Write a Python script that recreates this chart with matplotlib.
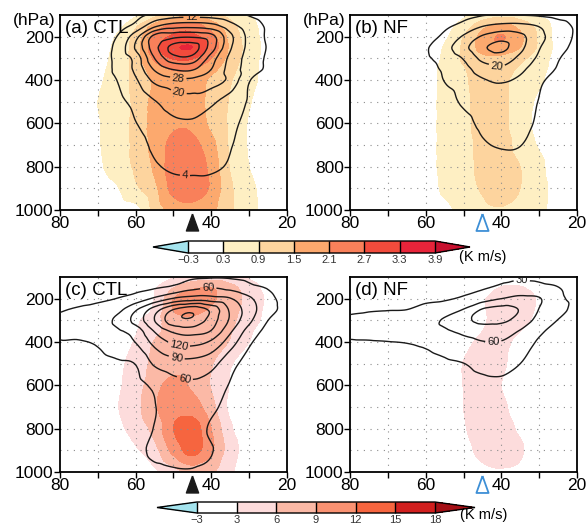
#!/usr/bin/env python3
"""
Pressure-latitude cross sections, CTL vs NF (four panels, two colour bars)
"""

import numpy as np
import matplotlib
matplotlib.use('Agg')
import matplotlib.pyplot as plt
import matplotlib.tri as mtri
from matplotlib.colors import ListedColormap, BoundaryNorm
from matplotlib.cm import ScalarMappable
from matplotlib.transforms import blended_transform_factory

plt.rcParams['font.family'] = ['Liberation Sans', 'DejaVu Sans']

# grid the fields were read on (columns = latitude, rows = pressure)
lats = [80, 75, 70, 65, 60, 55, 50, 45, 40, 35, 30, 25, 20]
levs = [100, 150, 200, 250, 300, 350, 400, 500, 600, 700, 800, 900, 1000]

# (a) CTL shading (K m/s)
shade_a = [
    [0, 0, 0, 0, 0.2, 0.7, 1.2, 1.35, 1.1, 0.7, 0.3, 0.05, 0],
    [0, 0, 0, 0.1, 0.8, 1.7, 2.3, 2.4, 1.8, 1.1, 0.5, 0.1, 0],
    [0, 0, 0, 0.35, 1.1, 2.3, 2.8, 2.85, 2.3, 1.3, 0.6, 0.1, 0],
    [0, 0, 0.05, 0.45, 1.2, 2.5, 3.2, 3.3, 2.5, 1.4, 0.65, 0.15, 0],
    [0, 0, 0.1, 0.5, 1.15, 2.2, 2.75, 2.75, 2.1, 1.3, 0.6, 0.1, 0],
    [0, 0, 0.15, 0.55, 1.1, 1.8, 2.15, 2.1, 1.7, 1.1, 0.55, 0.1, 0],
    [0, 0, 0.2, 0.6, 1.05, 1.6, 1.85, 1.8, 1.4, 0.95, 0.5, 0.1, 0],
    [0, 0, 0.3, 0.7, 1.0, 1.7, 1.9, 1.85, 1.3, 0.85, 0.35, 0, 0],
    [0, 0, 0.25, 0.65, 1.05, 1.75, 2.0, 1.95, 1.35, 0.8, 0.25, 0, 0],
    [0, 0, 0.25, 0.6, 1.05, 1.7, 2.3, 2.3, 1.7, 0.8, 0.25, 0, 0],
    [0, 0, 0.2, 0.6, 1.0, 1.6, 2.45, 2.55, 1.9, 0.85, 0.3, 0, 0],
    [0, 0, 0, 0.25, 0.8, 1.35, 2.3, 2.5, 2.0, 1.0, 0.45, 0.1, 0],
    [0, 0, 0, 0, 0.1, 1.1, 1.7, 1.85, 1.65, 1.0, 0.5, 0.1, 0],
]
# (a) CTL contours
cont_a = [
    [0, 0, 0, 0.5, 2, 6, 8, 8.5, 8, 6, 3.5, 1.5, 0.5],
    [0, 0, 0.5, 2, 6, 18, 24, 25, 23, 15, 8, 3, 1],
    [0, 0, 1, 4, 17, 39, 42, 43, 39, 22, 10, 3, 1],
    [0, 0, 0.5, 6, 21, 41, 55, 56, 40, 21, 10, 3.5, 1],
    [0, 0, 0.5, 6, 15, 36, 49, 49, 32, 18, 9, 3, 1],
    [0, 0, 0.5, 5.5, 14, 29, 36.5, 37, 28, 17, 8, 3, 1],
    [0, 0, 1.5, 4, 11, 22, 26, 26.5, 24, 18, 4.5, 1.5, 0.5],
    [0, 0, 1, 2.5, 6, 11.5, 16, 17, 13.5, 8, 3.5, 1.5, 0.5],
    [0, 0, 0.5, 1.5, 3.8, 7.5, 10.5, 11, 9, 5.5, 2.5, 1, 0],
    [0, 0, 0.3, 1, 2, 5, 7, 7.5, 6.5, 4.3, 2, 0.5, 0],
    [0, 0, 0, 0.5, 1.8, 3.5, 4.7, 4.9, 4.7, 3.5, 1.5, 0.3, 0],
    [0, 0, 0, 0.3, 1, 2, 2.8, 2.9, 2.7, 2, 1, 0.2, 0],
    [0, 0, 0, 0.2, 0.8, 1.5, 2.2, 2.3, 2.1, 1.5, 0.7, 0.1, 0],
]
# (b) NF shading
shade_b = [
    [0, 0, 0, 0, 0, 0, 0.2, 0.5, 0.7, 0.55, 0.2, 0, 0],
    [0, 0, 0, 0, 0, 0.1, 0.55, 1.3, 1.7, 1.3, 0.7, 0.1, 0],
    [0, 0, 0, 0, 0, 0.2, 0.9, 1.7, 2.15, 1.6, 0.8, 0.1, 0],
    [0, 0, 0, 0, 0, 0.35, 1.0, 1.7, 1.9, 1.5, 0.8, 0.15, 0],
    [0, 0, 0, 0, 0.05, 0.4, 1.0, 1.35, 1.35, 1.05, 0.6, 0.1, 0],
    [0, 0, 0, 0, 0.1, 0.45, 0.85, 1.2, 1.15, 0.8, 0.5, 0.05, 0],
    [0, 0, 0, 0, 0.1, 0.45, 0.8, 1.15, 1.05, 0.65, 0.4, 0, 0],
    [0, 0, 0, 0, 0.1, 0.45, 0.75, 1.1, 1.05, 0.6, 0.2, 0, 0],
    [0, 0, 0, 0, 0.1, 0.45, 0.75, 1.05, 1.05, 0.55, 0.15, 0, 0],
    [0, 0, 0, 0, 0.1, 0.45, 0.75, 1.0, 1.15, 0.65, 0.25, 0, 0],
    [0, 0, 0, 0, 0.1, 0.45, 0.75, 1.0, 1.2, 0.9, 0.45, 0, 0],
    [0, 0, 0, 0, 0.05, 0.4, 0.7, 0.95, 1.2, 0.9, 0.5, 0.1, 0],
    [0, 0, 0, 0, 0, 0.15, 0.5, 0.75, 0.85, 0.75, 0.45, 0.05, 0],
]
# (b) NF contours
cont_b = [
    [0, 0, 0, 0, 0, 0.5, 2, 3.5, 3.8, 3.8, 3, 1.5, 0.3],
    [0, 0, 0, 0, 0.5, 2.8, 6, 11.5, 14, 14, 11.5, 7, 2.5],
    [0, 0, 0, 0, 1.5, 5.5, 13, 21, 25, 22, 14, 8.5, 2.5],
    [0, 0, 0, 0, 3.2, 9, 17.5, 26.5, 30, 22, 12.5, 7, 1.5],
    [0, 0, 0, 0, 3, 6.5, 12.5, 22, 24, 18, 10.5, 4.5, 1],
    [0, 0, 0, 0, 2, 5, 9, 16, 18.5, 14, 7, 3.5, 0.5],
    [0, 0, 0, 0, 1, 4.2, 7, 11.3, 13, 10.5, 5, 2.5, 0.3],
    [0, 0, 0, 0, 0.3, 2, 4.8, 7, 7.8, 6.5, 3.8, 1.2, 0],
    [0, 0, 0, 0, 0, 1, 2.5, 5, 5.8, 5.5, 3.2, 1, 0],
    [0, 0, 0, 0, 0, 0.3, 1.2, 3.5, 4.3, 4.1, 2.2, 0.5, 0],
    [0, 0, 0, 0, 0, 0, 0.5, 2, 2.7, 2.5, 1.3, 0.3, 0],
    [0, 0, 0, 0, 0, 0, 0.3, 1.3, 1.7, 1.5, 0.8, 0.1, 0],
    [0, 0, 0, 0, 0, 0, 0.2, 1, 1.2, 1, 0.5, 0, 0],
]
# (c) CTL shading
shade_c = [
    [0, 0, 0, 0, 0.5, 1.5, 2.8, 4, 4.5, 4, 2.5, 1, 0],
    [0, 0, 0, 0, 1.5, 2.8, 6, 8.5, 9, 7, 4.5, 2, 0.5],
    [0, 0, 0, 0, 2, 3.1, 9, 11, 9.5, 7.5, 5, 2.5, 0.5],
    [0, 0, 0, 0, 1.8, 3.5, 9.2, 10.5, 8.5, 7, 4.8, 2.2, 0],
    [0, 0, 0, 0.3, 2.5, 4.8, 7.5, 8, 7.2, 6.5, 4.5, 2, 0],
    [0, 0, 0, 1, 2.8, 5.2, 7, 7.2, 6.8, 6.2, 3.5, 1.5, 0],
    [0, 0, 0, 1.5, 3.3, 6.2, 7.2, 7.3, 6.8, 5.8, 3, 1, 0],
    [0, 0, 0.5, 2.2, 4.2, 6.8, 7.8, 7.5, 6.2, 3.3, 1.5, 0.5, 0],
    [0, 0, 0.8, 2.5, 4.5, 8, 10, 8.5, 5.8, 2.8, 1.2, 0.4, 0],
    [0, 0, 1, 2.8, 5, 8.6, 11, 10.5, 7, 2.3, 1.0, 0.3, 0],
    [0, 0, 0.5, 2.2, 4.2, 7, 12, 13.5, 9, 3.5, 1, 0.3, 0],
    [0, 0, 0, 1, 2.6, 5, 10, 13.2, 9.5, 4.5, 1.5, 0.3, 0],
    [0, 0, 0, 0, 0.5, 2.2, 4.5, 7, 6.5, 3.5, 1.2, 0, 0],
]
# (c) CTL contours
cont_c = [
    [10, 11, 12, 13, 15, 18, 22, 25, 27, 26, 22, 15, 8],
    [13, 15, 17, 20, 23, 28, 36, 52, 60, 52, 38, 28, 15],
    [18, 20, 24, 30.5, 42, 66, 93, 105, 102, 92, 65, 38, 20],
    [28, 33, 40, 50, 86, 135, 180, 200, 172, 115, 75, 40, 22],
    [33, 38, 45, 66, 100, 150, 198, 205, 165, 115, 67, 30, 15],
    [32, 36, 42, 55, 73, 122, 155, 162, 148, 95, 48, 22, 10],
    [29, 28.5, 33, 46, 61, 100, 125, 130, 115, 75, 35, 15, 7],
    [15, 18, 22, 26, 31, 64, 78, 80, 70, 40, 20, 10, 5],
    [8, 10, 12, 16, 22, 35, 50, 55, 47, 28, 15, 7, 3],
    [5, 6, 8, 12, 18, 29, 42, 45, 35, 22, 12, 6, 3],
    [3, 4, 6, 10, 18, 31, 40, 40, 27, 18, 10, 5, 2],
    [2, 3, 5, 10, 20, 37, 40, 40, 31, 20, 10, 5, 2],
    [2, 2, 3, 6, 12, 22, 27, 28, 26, 18, 8, 3, 1],
]
# (d) NF shading
shade_d = [
    [0, 0, 0, 0, 0, 0, 0, 0.5, 1.5, 1.5, 0.5, 0, 0],
    [0, 0, 0, 0, 0, 0, 0.5, 1.5, 3.2, 3.3, 1.5, 0, 0],
    [0, 0, 0, 0, 0, 0, 1, 2.5, 5.4, 5.3, 2.5, 0.5, 0],
    [0, 0, 0, 0, 0, 0, 0.8, 2.6, 4.5, 4.6, 2.4, 0.3, 0],
    [0, 0, 0, 0, 0, 0, 0.8, 2.5, 4.5, 4.0, 2, 0, 0],
    [0, 0, 0, 0, 0, 0, 1.2, 3.0, 4.5, 3.0, 1, 0, 0],
    [0, 0, 0, 0, 0, 0.5, 2, 3.8, 4.3, 1.5, 0, 0, 0],
    [0, 0, 0, 0, 0, 1, 3.1, 4.3, 3.6, 1.3, 0, 0, 0],
    [0, 0, 0, 0, 0, 1, 3.05, 4.3, 3.0, 1, 0, 0, 0],
    [0, 0, 0, 0, 0, 1, 3.0, 4.4, 3.6, 1.5, 0, 0, 0],
    [0, 0, 0, 0, 0, 0.8, 2.7, 4.3, 4.2, 2.5, 0.5, 0, 0],
    [0, 0, 0, 0, 0, 0.3, 2, 3.8, 4.5, 3.4, 1, 0, 0],
    [0, 0, 0, 0, 0, 0, 1, 2.2, 2.7, 2.4, 0.5, 0, 0],
]
# (d) NF contours
cont_d = [
    [15, 16, 17, 18, 19, 20, 22, 25, 27, 27, 24, 17, 10],
    [16, 17, 18, 19, 20, 21, 24, 28, 34, 40, 38, 31, 18],
    [20, 21, 22, 23, 25, 27, 34, 46, 60, 68, 62, 36, 22],
    [27, 28, 29, 29.8, 38, 46, 61, 92, 100, 88, 59, 40, 20],
    [33, 37, 40, 44, 51, 63, 82, 97, 96, 78, 50, 29, 15],
    [36, 38, 41, 45, 50, 56, 66, 72, 70, 58, 36, 18, 8],
    [28, 28.5, 29.5, 31, 35, 42, 52, 59, 59, 47, 26, 12, 5],
    [18, 19, 20, 21, 23, 26, 29.5, 38, 40, 30, 17, 8, 3],
    [12, 12, 13, 13, 14, 16, 19, 23, 24, 19, 11, 5, 2],
    [8, 8, 9, 9, 10, 11, 13, 15, 16, 12, 7, 3, 1],
    [5, 5, 6, 6, 7, 8, 9, 10, 11, 8, 5, 2, 1],
    [3, 3, 4, 4, 5, 5, 6, 7, 7, 5, 3, 1, 0],
    [2, 2, 3, 3, 3, 4, 4, 5, 5, 3, 2, 1, 0],
]

# colour scales
bounds_top = [-0.3, 0.3, 0.9, 1.5, 2.1, 2.7, 3.3, 3.9]
colors_top = ['#ffffff', '#feefc3', '#fdd49e', '#fca96e', '#f9805a', '#f24b3c', '#e8243a']
bounds_bot = [-3, 3, 6, 9, 12, 15, 18]
colors_bot = ['#ffffff', '#fddcdc', '#fbb9a6', '#fa9272', '#f6653f', '#d11f1e']
under_color = '#a4e4ee'
over_top = '#c8102e'
over_bot = '#a50f15'

clev_top = [4, 12, 20, 28, 36, 44, 52]
clev_bot = [30, 60, 90, 120, 150, 180, 210]

# label spots (lat, hPa)
labels_a = [(45.2, 110), (48.7, 385), (48.7, 461), (47.0, 846)]
labels_b = [(41.2, 338)]
labels_c = [(40.8, 154), (48.7, 423), (49.2, 477), (47.0, 569)]
labels_d = [(34.6, 131), (42.1, 412)]

W, H = 587, 526
fig = plt.figure(figsize=(W / 100, H / 100), dpi=100)

# triangulated grid, refined by matplotlib's cubic interpolator
nx, ny = len(lats), len(levs)
lat2d, lev2d = np.meshgrid(np.array(lats, float), np.array(levs, float))
tris = []
for j in range(ny - 1):
    for i in range(nx - 1):
        k = j * nx + i
        tris.append([k, k + 1, k + nx])
        tris.append([k + 1, k + nx + 1, k + nx])
P_SCALE = 15.0
base_tri = mtri.Triangulation(lat2d.ravel(), lev2d.ravel() / P_SCALE, tris)
refiner = mtri.UniformTriRefiner(base_tri)


def smooth(field):
    z = np.asarray(field, float).ravel()
    interp = mtri.CubicTriInterpolator(base_tri, z, kind='geom')
    tri_f, z_f = refiner.refine_field(z, triinterpolator=interp, subdiv=3)
    tri_p = mtri.Triangulation(tri_f.x, tri_f.y * P_SCALE, tri_f.triangles)
    return tri_p, z_f


def px_rect(x0, y0, x1, y1):
    return [x0 / W, 1 - y1 / H, (x1 - x0) / W, (y1 - y0) / H]


def make_cmap(colors, over):
    cmap = ListedColormap(colors)
    cmap.set_under(under_color)
    cmap.set_over(over)
    return cmap


cmap_top = make_cmap(colors_top, over_top)
norm_top = BoundaryNorm(bounds_top, cmap_top.N)
cmap_bot = make_cmap(colors_bot, over_bot)
norm_bot = BoundaryNorm(bounds_bot, cmap_bot.N)


def draw_panel(rect, shade, cont, bounds, cmap, norm, clev, labels, title, filled_marker):
    ax = fig.add_axes(px_rect(*rect))
    tri_s, zs = smooth(shade)
    ax.tricontourf(tri_s, zs, levels=bounds[1:], cmap=cmap, norm=norm,
                   extend='max', zorder=1)
    for x in [70, 60, 50, 40, 30]:
        ax.axvline(x, color='#8c8c8c', lw=0.8, ls=(0, (1, 5)), zorder=2)
    for y in range(200, 1000, 100):
        ax.axhline(y, color='#8c8c8c', lw=0.8, ls=(0, (1, 5)), zorder=2)
    tri_c, zc = smooth(cont)
    cs = ax.tricontour(tri_c, zc, levels=clev, colors='#1a1a1a',
                       linewidths=1.0, zorder=3)
    ax.clabel(cs, manual=labels, fmt='%d', fontsize=8, inline=True,
              inline_spacing=2)

    ax.set_xlim(80, 20)
    ax.set_ylim(1000, 100)
    ax.set_xticks([80, 60, 40, 20])
    ax.set_xticks([70, 50, 30], minor=True)
    ax.set_yticks([200, 400, 600, 800, 1000])
    ax.tick_params(which='both', direction='out', length=4, width=1,
                   labelsize=12.5, pad=0.5)
    for s in ax.spines.values():
        s.set_linewidth(1.3)
    ax.text(0.022, 0.975, title, transform=ax.transAxes, ha='left', va='top',
            fontsize=13.5, zorder=5)

    trans = blended_transform_factory(ax.transData, ax.transAxes)
    tri_marker = [(0, 1), (-0.72, -1), (0.72, -1), (0, 1)]
    if filled_marker:
        ax.plot([45], [-0.059], marker=tri_marker, ms=12.2, mfc='#1a1a1a',
                mec='#1a1a1a', transform=trans, clip_on=False, zorder=6)
    else:
        ax.plot([45], [-0.059], marker=tri_marker, ms=12.2, mfc='none',
                mec='#3d8fd6', mew=1.3, transform=trans, clip_on=False, zorder=6)
    return ax


draw_panel((60, 15, 287, 210), shade_a, cont_a, bounds_top, cmap_top, norm_top,
           clev_top, labels_a, '(a) CTL', True)
draw_panel((350, 15, 577, 210), shade_b, cont_b, bounds_top, cmap_top, norm_top,
           clev_top, labels_b, '(b) NF', False)
draw_panel((60, 277, 287, 472), shade_c, cont_c, bounds_bot, cmap_bot, norm_bot,
           clev_bot, labels_c, '(c) CTL', True)
draw_panel((350, 277, 577, 472), shade_d, cont_d, bounds_bot, cmap_bot, norm_bot,
           clev_bot, labels_d, '(d) NF', False)

fig.text(55 / W, 1 - 20 / H, '(hPa)', ha='right', va='center', fontsize=12.5)
fig.text(345 / W, 1 - 20 / H, '(hPa)', ha='right', va='center', fontsize=12.5)


def fmt_bound(v):
    s = ('%g' % v)
    return s.replace('-', '\u2212')


def draw_cbar(rect, bounds, cmap, norm, frac, unit_xy):
    cax = fig.add_axes(px_rect(*rect))
    sm = ScalarMappable(norm=norm, cmap=cmap)
    cb = fig.colorbar(sm, cax=cax, orientation='horizontal', extend='both',
                      extendfrac=frac, drawedges=True, ticks=bounds)
    cb.set_ticklabels([fmt_bound(b) for b in bounds])
    cb.outline.set_linewidth(1.0)
    cb.dividers.set_linewidth(1.0)
    cax.tick_params(length=0, pad=1.5, labelsize=8, labelcolor='#333333')
    fig.text(unit_xy[0] / W, 1 - unit_xy[1] / H, '(K m/s)', ha='left',
             va='center', fontsize=10.5)


draw_cbar((153, 241, 470, 253), bounds_top, cmap_top, norm_top, 0.142, (459, 257))
draw_cbar((157, 502, 475, 513), bounds_bot, cmap_bot, norm_bot, 0.168, (460, 515))

fig.savefig('out.png', dpi=100)
